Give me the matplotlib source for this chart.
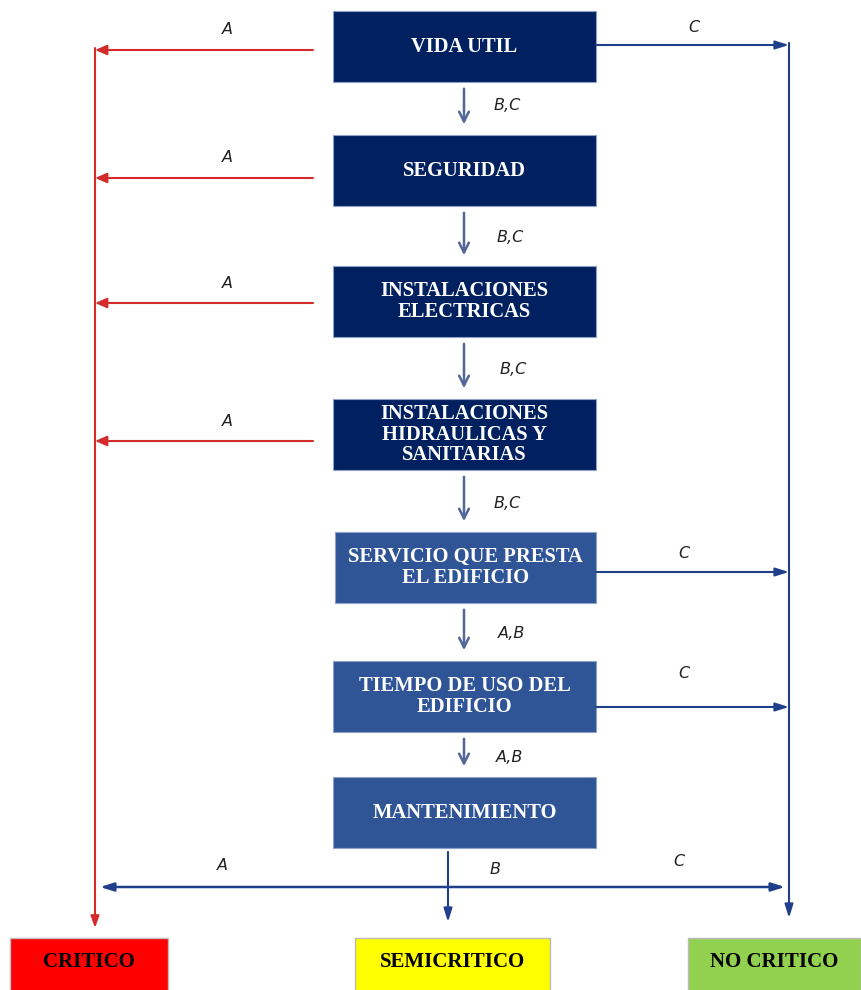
import matplotlib.pyplot as plt
from matplotlib.patches import Rectangle

# flowchart content
factores = ["VIDA UTIL", "SEGURIDAD", "INSTALACIONES\nELECTRICAS",
            "INSTALACIONES\nHIDRAULICAS Y\nSANITARIAS",
            "SERVICIO QUE PRESTA\nEL EDIFICIO", "TIEMPO DE USO DEL\nEDIFICIO",
            "MANTENIMIENTO"]
etiquetas_bajada = ["B,C", "B,C", "B,C", "B,C", "A,B", "A,B"]
sale_a = [True, True, True, True, False, False, False]    # red arrow to CRITICO
sale_c = [True, False, False, False, True, True, False]   # blue arrow to NO CRITICO
resultados = ["CRITICO", "SEMICRITICO", "NO CRITICO"]
colores_resultado = ["#FF0000", "#FFFF00", "#92D050"]

# layout (pixels)
box_top = [11, 135, 266, 399, 532, 661, 777]
box_h = 71
box_x0, box_x1 = 333, 596
oscuro = "#002060"
medio = "#2F5597"
rojo = "#D42A2A"
azul = "#1F3F8A"
gris_azul = "#52669A"

fig = plt.figure(figsize=(8.61, 9.9), dpi=100)
ax = fig.add_axes([0, 0, 1, 1])
ax.set_xlim(0, 861)
ax.set_ylim(990, 0)
ax.axis("off")

serif = dict(family="Liberation Serif", weight="bold", color="white",
             fontsize=14.8, ha="center", va="center", linespacing=1.02)
lab = dict(family="DejaVu Sans", style="italic", fontsize=11.5, color="#222222",
           ha="center", va="center")

for i, txt in enumerate(factores):
    col = oscuro if i < 4 else medio
    x0 = box_x0 if i != 4 else 335
    ax.add_patch(Rectangle((x0, box_top[i]), box_x1 - x0, box_h,
                           facecolor=col, edgecolor="#8ea0c8", lw=0.8))
    ax.text((x0 + box_x1) / 2, box_top[i] + box_h / 2, txt, **serif)

# down arrows between factors
lab_y = [106, 237, 370, 503, 634, 757]
lab_x = [507, 510, 513, 507, 512, 510]
for i, t in enumerate(etiquetas_bajada):
    y0 = box_top[i] + box_h + 4
    y1 = box_top[i + 1] - 8
    ax.annotate("", xy=(464, y1), xytext=(464, y0),
                arrowprops=dict(arrowstyle="->,head_width=0.35,head_length=0.7",
                                color=gris_azul, lw=1.8))
    ax.text(lab_x[i], lab_y[i], t, **lab)

# left red lane
left_x = 95
ys_a = [50, 178, 303, 441]
k = 0
for i, s in enumerate(sale_a):
    if s:
        y = ys_a[k]
        k += 1
        ax.annotate("", xy=(left_x, y), xytext=(313, y),
                    arrowprops=dict(arrowstyle="-|>,head_width=0.3,head_length=0.7",
                                    color=rojo, lw=1.5, shrinkA=0, shrinkB=0))
        ax.text(227, y - 20, "A", **lab)
ax.annotate("", xy=(left_x, 928), xytext=(left_x, 48),
            arrowprops=dict(arrowstyle="-|>,head_width=0.25,head_length=0.7",
                            color=rojo, lw=1.5, shrinkA=0, shrinkB=0))

# right blue lane
right_x = 789
ys_c = [45, 572, 707]
lab_c = [27, 553, 674]
k = 0
for i, s in enumerate(sale_c):
    if s:
        ax.annotate("", xy=(right_x, ys_c[k]), xytext=(box_x1, ys_c[k]),
                    arrowprops=dict(arrowstyle="-|>,head_width=0.25,head_length=0.8",
                                    color=azul, lw=1.5, shrinkA=0, shrinkB=0))
        ax.text(694 if k == 0 else 684, lab_c[k], "C", **lab)
        k += 1
ax.annotate("", xy=(right_x, 918), xytext=(right_x, 43),
            arrowprops=dict(arrowstyle="-|>,head_width=0.25,head_length=0.8",
                            color=azul, lw=1.5, shrinkA=0, shrinkB=0))

# bottom distribution
ax.annotate("", xy=(448, 922), xytext=(448, 852),
            arrowprops=dict(arrowstyle="-|>,head_width=0.25,head_length=0.8",
                            color=azul, lw=1.5, shrinkA=0, shrinkB=0))
ax.annotate("", xy=(100, 887), xytext=(785, 887),
            arrowprops=dict(arrowstyle="<|-|>,head_width=0.25,head_length=0.8",
                            color=azul, lw=1.8, shrinkA=0, shrinkB=0))
ax.text(222, 865, "A", **lab)
ax.text(495, 870, "B", **lab)
ax.text(679, 862, "C", **lab)

# outcome boxes
res_x = [(10, 168), (355, 550), (688, 861)]
for (x0, x1), txt, col in zip(res_x, resultados, colores_resultado):
    ax.add_patch(Rectangle((x0, 938), x1 - x0, 60, facecolor=col,
                           edgecolor="#bbbbbb", lw=1))
    ax.text((x0 + x1) / 2, 962, txt, family="Liberation Serif", weight="bold",
            fontsize=15, color="black", ha="center", va="center")

fig.savefig("out.png", dpi=100)
